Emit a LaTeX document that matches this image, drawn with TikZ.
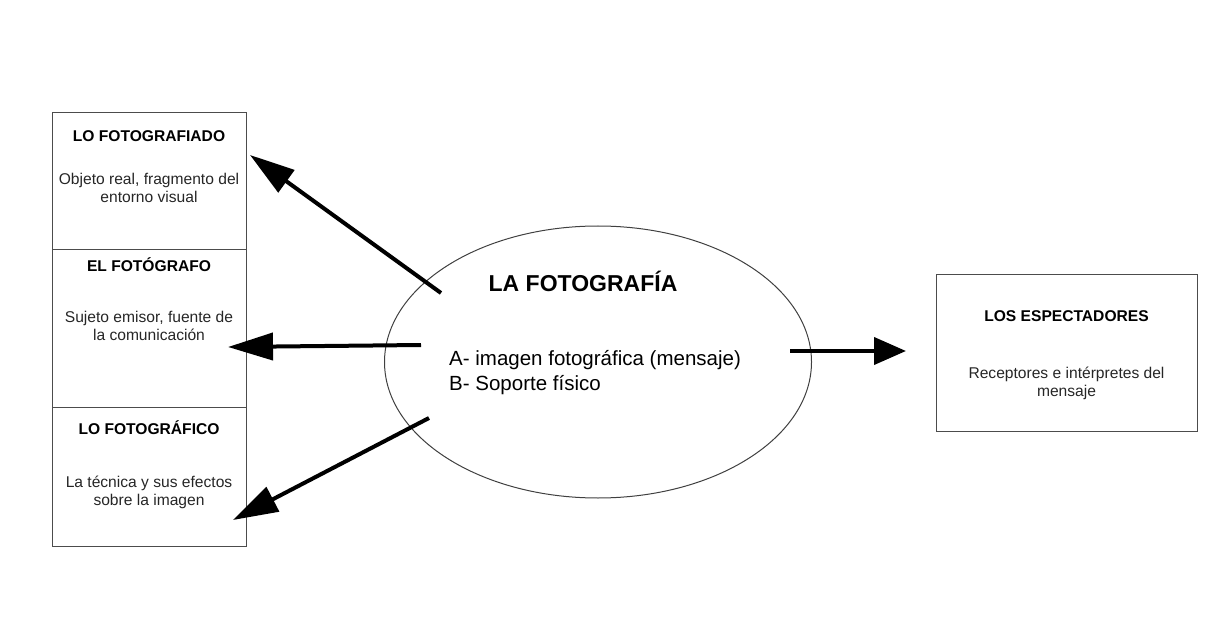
\documentclass[tikz,border=0pt]{standalone}
\usepackage{fontspec}
\setmainfont{Liberation Sans}
\usetikzlibrary{arrows.meta,positioning,shapes.geometric}

\begin{document}
\begin{tikzpicture}[x=1pt, y=-1pt]
\tikzset{
	    caja/.style={rectangle, draw=black!70, line width=1pt, minimum width=194pt, inner sep=0pt, outer sep=0pt},
	    titulo/.style={font=\bfseries\fontsize{15.6}{18}\selectfont, anchor=base, inner sep=0pt},
	    texto/.style={font=\fontsize{15.6}{18}\selectfont, align=center, anchor=north, inner sep=0pt, text=black!85},
	    flecha/.style={-{Triangle[length=45pt,width=27pt]}, line width=4pt}
	}
	\useasboundingbox (0,0) rectangle (1223,644);

	\node[caja, minimum height=137pt, anchor=north west] (fotografiado) at (52,113) {};
	\node[caja, minimum height=157pt, below=0pt of fotografiado] (fotografo) {};
	\node[caja, minimum height=139pt, below=0pt of fotografo] (fotografico) {};

	\node[titulo] (tfotografiado) at (149,142) {LO FOTOGRAFIADO};
	\node[texto] (dfotografiado) at (149,173) {Objeto real, fragmento del\\entorno visual};
	\node[titulo] (tfotografo) at (149,272) {EL FOTÓGRAFO};
	\node[texto] (dfotografo) at (149,310.5) {Sujeto emisor, fuente de\\la comunicación};
	\node[titulo] (tfotografico) at (149,434) {LO FOTOGRÁFICO};
	\node[texto] (dfotografico) at (149,476) {La técnica y sus efectos\\sobre la imagen};

	\node[ellipse, draw=black!75, line width=1pt, minimum width=427pt, minimum height=272pt, inner sep=0pt] (fotografia) at (598,362) {};
	\node[font=\bfseries\fontsize{23}{26}\selectfont, anchor=base, inner sep=0pt] (tfotografia) at (583,291.7) {LA FOTOGRAFÍA};
	\node[font=\fontsize{20.5}{25}\selectfont, align=left, anchor=north west, inner sep=0pt] (dfotografia) at (449,350) {A- imagen fotográfica (mensaje)\\B- Soporte físico};

	\node[caja, minimum width=261pt, minimum height=156pt, anchor=north west] (espectadores) at (936,275) {};
	\node[titulo] (tespectadores) at (1066.5,321.7) {LOS ESPECTADORES};
	\node[texto] (despectadores) at (1066.5,367) {Receptores e intérpretes del\\mensaje};

	\coordinate (s1) at (441,293);
	\coordinate (e1) at (250,155);
	\coordinate (s2) at (421,345);
	\coordinate (e2) at (228,347);
	\coordinate (s3) at (429,418);
	\coordinate (e3) at (233,520);
	\coordinate (s4) at (790,351);
	\coordinate (e4) at (906,351);

	\draw[flecha] (s1) -- (e1);
	\draw[flecha] (s2) -- (e2);
	\draw[flecha] (s3) -- (e3);
	\draw[flecha, -{Triangle[length=32pt,width=27pt]}] (s4) -- (e4);

\end{tikzpicture}
\end{document}
